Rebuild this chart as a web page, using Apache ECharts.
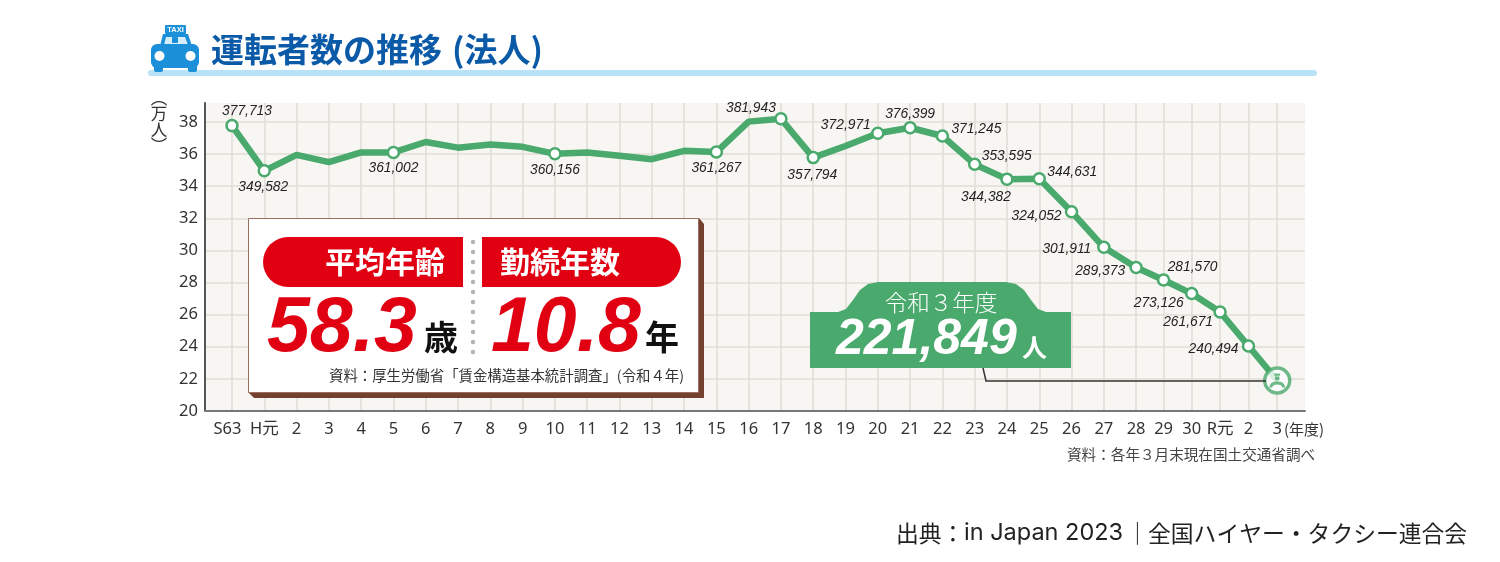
<!DOCTYPE html>
<html>
<head>
<meta charset="utf-8">
<title>運転者数の推移（法人）</title>
<style>
  html, body { margin: 0; padding: 0; background: #fff; }
  #chart { width: 1500px; height: 562px; }
</style>
<script src="https://cdn.jsdelivr.net/npm/echarts@6/dist/echarts.min.js"></script>
</head>
<body>
<div id="chart"></div>
<script>
// 年度ラベル
var yearLabels = ['S63','H元','2','3','4','5','6','7','8','9','10','11','12','13','14','15','16','17','18','19','20','21','22','23','24','25','26','27','28','29','30','R元','2','3'];
// 横軸上の位置 (H28以降は元の図で間隔が詰まっている)
var yearSlots = [0,1,2,3,4,5,6,7,8,9,10,11,12,13,14,15,16,17,18,19,20,21,22,23,24,25,26,27,28,28.85,29.72,30.6,31.48,32.37];
// 運転者数 (人) 数字の無い年度は図からの読み取り
// 最終年度の表記は221,849人だが、元の図の点は約21.9万の高さにあるのでそれに合わせる
var drivers = [377713,349582,359500,355000,361000,361002,367500,364000,366000,364500,360156,361000,359000,356800,362000,361267,380200,381943,357794,365000,372971,376399,371245,353595,344382,344631,324052,301911,289373,281570,273126,261671,240494,219000];
// 数字を出す年度
var labelled = [0,1,5,10,15,17,18,20,21,22,23,24,25,26,27,28,29,30,31,32];
var yTicks = [200000,220000,240000,260000,280000,300000,320000,340000,360000,380000];

var labelOffsets = {
  0:[15,-14], 1:[-1,16], 5:[0,16], 10:[0,16], 15:[0,16], 17:[-30,-11], 18:[-1,18],
  20:[-32,-8], 21:[0,-14], 22:[34,-7], 23:[32,-8], 24:[-21,18], 25:[33,-7], 26:[-35,4],
  27:[-37,2], 28:[-36,4], 29:[29,-13], 30:[-33,10], 31:[-32,10], 32:[-35,3]
};

var GREEN = '#4aa96c';
var RED = '#e00012';
var JP = '"Noto Sans CJK JP", sans-serif';
var NUM = '"Liberation Sans", sans-serif';
var AXIS_FONT = '"Noto Sans", "Noto Sans CJK JP", sans-serif';

var lineData = drivers.map(function (v, i) {
  var on = labelled.indexOf(i) >= 0;
  var item = { value: [yearSlots[i], v], symbol: on ? 'circle' : 'none' };
  if (on) {
    item.label = {
      show: true,
      position: 'inside',
      offset: labelOffsets[i],
      formatter: v.toLocaleString('en-US')
    };
  }
  return item;
});

var last = drivers.length - 1;

function txt(x, y, text, size, color, extra) {
  var style = { x: x, y: y, text: text, fontSize: size, fill: color, fontFamily: JP, verticalAlign: 'middle', align: 'left' };
  for (var k in extra) style[k] = extra[k];
  return { type: 'text', z: 6, style: style };
}

function dots() {
  var out = [];
  for (var y = 242; y <= 353; y += 10) {
    out.push({ type: 'circle', z: 6, shape: { cx: 473, cy: y, r: 2.2 }, style: { fill: '#b4b4b4' } });
  }
  return out;
}

var graphics = [
  // タクシーのアイコン
  { type: 'rect', z: 6, shape: { x: 165, y: 25, width: 21, height: 9, r: 1 }, style: { fill: '#1b8fd8' } },
  txt(175.5, 30, 'TAXI', 7.5, '#fff', { fontFamily: NUM, fontWeight: 'bold', align: 'center' }),
  { type: 'polygon', z: 6, shape: { points: [[160,46],[163,34],[188,34],[192,46]] }, style: { fill: '#1b8fd8' } },
  { type: 'polygon', z: 6, shape: { points: [[164,45],[166,37],[185,37],[188,45]] }, style: { fill: '#d6eefa' } },
  { type: 'rect', z: 6, shape: { x: 172, y: 37, width: 6, height: 6, r: 1 }, style: { fill: '#1b8fd8' } },
  { type: 'rect', z: 6, shape: { x: 151, y: 44, width: 48, height: 24, r: 6 }, style: { fill: '#1b8fd8' } },
  { type: 'rect', z: 6, shape: { x: 154, y: 62, width: 9, height: 10, r: 2 }, style: { fill: '#1b8fd8' } },
  { type: 'rect', z: 6, shape: { x: 188, y: 62, width: 9, height: 10, r: 2 }, style: { fill: '#1b8fd8' } },
  { type: 'circle', z: 6, shape: { cx: 159.5, cy: 56, r: 5 }, style: { fill: '#fff' } },
  { type: 'circle', z: 6, shape: { cx: 190.5, cy: 56, r: 5 }, style: { fill: '#fff' } },

  // 見出し
  { type: 'rect', z: 5, shape: { x: 148, y: 70, width: 1169, height: 6, r: 3 }, style: { fill: '#b8e2f8' } },
  txt(211, 49, '運転者数の推移', 33, '#0a5aa8', { fontWeight: 'bold' }),
  txt(452, 49, '(法人)', 33, '#0a5aa8', { fontWeight: 'bold' }),

  // 単位
  txt(159, 122, '︵\n万\n人\n︶', 16.5, '#333', { align: 'center', lineHeight: 16 }),

  // 平均年齢 / 勤続年数のパネル
  { type: 'polygon', z: 5, shape: { points: [[252,222],[699,218],[704,224],[704,398],[254,398],[248,392]] }, style: { fill: '#74402f' } },
  { type: 'rect', z: 6, shape: { x: 248.5, y: 218.5, width: 450, height: 174 }, style: { fill: '#fff', stroke: '#9a6e60', lineWidth: 1 } },
  { type: 'rect', z: 6, shape: { x: 263, y: 237, width: 200, height: 50, r: [25,0,0,25] }, style: { fill: RED } },
  { type: 'rect', z: 6, shape: { x: 482, y: 237, width: 199, height: 50, r: [0,25,25,0] }, style: { fill: RED } },
  txt(325, 262, '平均年齢', 30, '#fff', { fontWeight: 'bold' }),
  txt(500, 262, '勤続年数', 30, '#fff', { fontWeight: 'bold' }),
].concat(dots(), [
  txt(267, 330, '58.3', 77, RED, { fontFamily: NUM, fontStyle: 'italic', fontWeight: 'bold' }),
  txt(491, 330, '10.8', 77, RED, { fontFamily: NUM, fontStyle: 'italic', fontWeight: 'bold' }),
  txt(424, 337, '歳', 34, '#111', { fontWeight: 'bold' }),
  txt(645, 337, '年', 34, '#111', { fontWeight: 'bold' }),
  txt(329, 376, '資料：厚生労働省「賃金構造基本統計調査」(令和４年)', 14.4, '#333'),

  // 令和3年度の吹き出し
  { type: 'polyline', z: 5, shape: { points: [[983,368],[986,381],[1266,381]] }, style: { fill: 'none', stroke: '#333', lineWidth: 1.5 } },
  { type: 'polygon', z: 6, shape: { points: [[810,312],[838,312],[846,309],[853,300],[860,290],[868,284],[878,282],[1006,282],[1016,284],[1024,290],[1031,300],[1038,309],[1046,312],[1071,312],[1071,368],[810,368]] }, style: { fill: GREEN } },
  txt(941, 302, '令和３年度', 22.5, '#fff', { align: 'center', fontWeight: 300 }),
  txt(836, 340, '221,849', 50, '#fff', { fontFamily: NUM, fontStyle: 'italic', fontWeight: 'bold' }),
  txt(1022, 347, '人', 25, '#fff', { fontWeight: 'bold' }),

  // 軸まわりの注記
  txt(1284, 429, '(年度)', 15, '#333'),
  txt(1067, 454, '資料：各年３月末現在国土交通省調べ', 14.6, '#444'),
  // 出典
  txt(896, 533, '出典：', 22.8, '#222'),
  txt(964, 533, 'in Japan 2023', 23.5, '#222', { fontFamily: 'Inter, sans-serif' }),
  txt(1126, 533, '｜', 22.8, '#222'),
  txt(1148, 533, '全国ハイヤー・タクシー連合会', 22.8, '#222')
]);

var option = {
  backgroundColor: '#fff',
  animation: false,
  grid: {
    left: 205,
    right: 195,
    top: 103,
    bottom: 151,
    show: true,
    backgroundColor: '#f8f6f2',
    borderWidth: 0
  },
  xAxis: {
    type: 'value',
    min: -0.836,
    max: 33.23,
    axisLine: { show: true, onZero: false, lineStyle: { color: '#777', width: 2 } },
    axisTick: { show: false, customValues: yearSlots },
    splitLine: { show: true, lineStyle: { color: '#e2ddd6', width: 1.6 } },
    axisLabel: {
      customValues: yearSlots,
      margin: 10,
      color: '#333',
      fontSize: 16.5,
      fontFamily: AXIS_FONT,
      formatter: function (v) {
        var i = yearSlots.indexOf(v);
        return i === 0 ? '{first|' + yearLabels[0] + '}' : yearLabels[i];
      },
      rich: {
        first: { color: '#333', fontSize: 16.5, fontFamily: AXIS_FONT, padding: [0, 9, 0, 0] }
      }
    }
  },
  yAxis: {
    type: 'value',
    min: 200000,
    max: 391800,
    axisLine: { show: true, onZero: false, lineStyle: { color: '#555', width: 2 } },
    axisTick: { show: false, customValues: yTicks },
    splitLine: { show: true, lineStyle: { color: '#e2ddd6', width: 1.6 } },
    axisLabel: {
      customValues: yTicks,
      margin: 7,
      color: '#333',
      fontSize: 16.5,
      fontFamily: '"Noto Sans", sans-serif',
      formatter: function (v) { return v / 10000; }
    }
  },
  series: [
    {
      type: 'line',
      data: lineData,
      showSymbol: true,
      symbolSize: 11,
      lineStyle: { color: GREEN, width: 6.5 },
      itemStyle: { color: '#fff', borderColor: GREEN, borderWidth: 2.5 },
      label: {
        color: '#222',
        fontSize: 13.8,
        fontStyle: 'italic',
        fontFamily: NUM
      },
      z: 3
    },
    {
      // 最終年度のマーカー
      type: 'scatter',
      data: [[yearSlots[last], drivers[last]]],
      symbol: 'circle',
      symbolSize: 25,
      itemStyle: { color: '#fff', borderColor: GREEN, borderWidth: 3.5 },
      z: 4
    },
    {
      type: 'scatter',
      data: [[yearSlots[last], drivers[last]]],
      symbol: 'path://M7 0 L15 0 L15 3 L7 3 Z M8 4 L14 4 L14 8 Q11 10 8 8 Z M0 18 Q1 10 11 10 Q21 10 22 18 L18 18 Q17 14 11 14 Q5 14 4 18 Z',
      symbolSize: [16, 14],
      itemStyle: { color: GREEN },
      z: 5
    }
  ],
  graphic: graphics
};

var myChart = echarts.init(document.getElementById('chart'));
myChart.setOption(option);
</script>
</body>
</html>
